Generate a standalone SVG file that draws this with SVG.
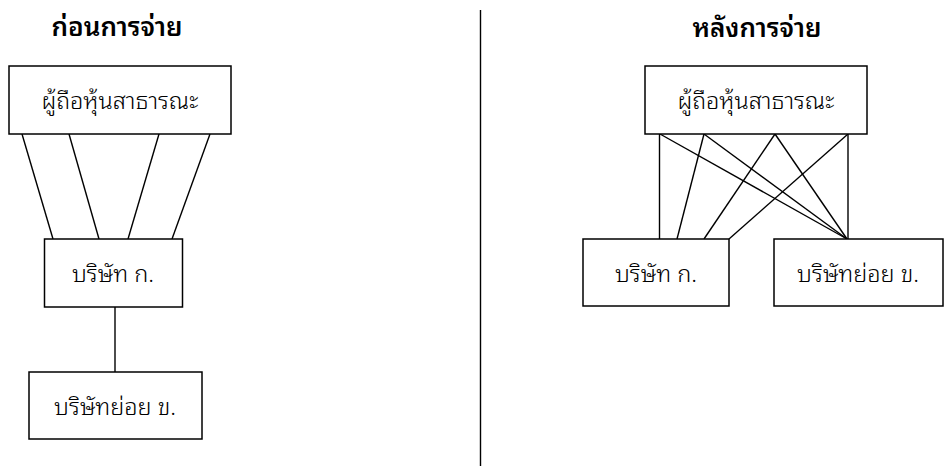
<svg xmlns="http://www.w3.org/2000/svg" width="944" height="466" viewBox="0 0 944 466">
<style>
.box{fill:#fff;stroke:#000;stroke-width:1.5}
.ln{stroke:#000;stroke-width:1.4;fill:none}
.t{font-family:"Noto Sans Thai Looped","Noto Sans Thai","DejaVu Sans","Noto Sans",sans-serif;font-size:23.5px;font-weight:300;text-anchor:middle;fill:#000}
.h{font-family:"Noto Sans Thai Looped","Noto Sans Thai","DejaVu Sans","Noto Sans",sans-serif;font-size:26px;font-weight:600;text-anchor:middle;fill:#000}
</style>
<rect width="944" height="466" fill="#fff"/>
<text class="h" x="117" y="36">ก่อนการจ่าย</text>
<text class="h" x="757" y="37">หลังการจ่าย</text>
<g id="connectors">
<line class="ln" x1="480.5" y1="10" x2="480.5" y2="466"/>
<line class="ln" x1="22" y1="134" x2="53" y2="239"/>
<line class="ln" x1="69" y1="134" x2="99" y2="239"/>
<line class="ln" x1="159" y1="134" x2="128" y2="239"/>
<line class="ln" x1="210" y1="134" x2="172" y2="239"/>
<line class="ln" x1="115" y1="307" x2="115" y2="372"/>
<line class="ln" x1="659.5" y1="134" x2="659.5" y2="239"/>
<line class="ln" x1="704" y1="134" x2="677" y2="239"/>
<line class="ln" x1="775" y1="134" x2="704" y2="239"/>
<line class="ln" x1="848" y1="134" x2="729" y2="239"/>
<line class="ln" x1="660" y1="134" x2="847" y2="239"/>
<line class="ln" x1="704" y1="134" x2="847" y2="239"/>
<line class="ln" x1="775" y1="134" x2="847" y2="239"/>
<line class="ln" x1="848" y1="134" x2="848" y2="239"/>
</g>
<g id="public-before"><rect class="box" x="9" y="66" width="222" height="68"/><text class="t" x="120" y="109">ผู้ถือหุ้นสาธารณะ</text></g>
<g id="companyA-before"><rect class="box" x="44.5" y="239" width="138" height="68"/><text class="t" x="113" y="282">บริษัท ก.</text></g>
<g id="subB-before"><rect class="box" x="29" y="372" width="173" height="67"/><text class="t" x="115" y="415">บริษัทย่อย ข.</text></g>
<g id="public-after"><rect class="box" x="645" y="66" width="222" height="68"/><text class="t" x="756" y="109">ผู้ถือหุ้นสาธารณะ</text></g>
<g id="companyA-after"><rect class="box" x="583" y="239" width="146" height="67"/><text class="t" x="656" y="282">บริษัท ก.</text></g>
<g id="subB-after"><rect class="box" x="774" y="239" width="169" height="67"/><text class="t" x="858" y="282">บริษัทย่อย ข.</text></g>
</svg>
